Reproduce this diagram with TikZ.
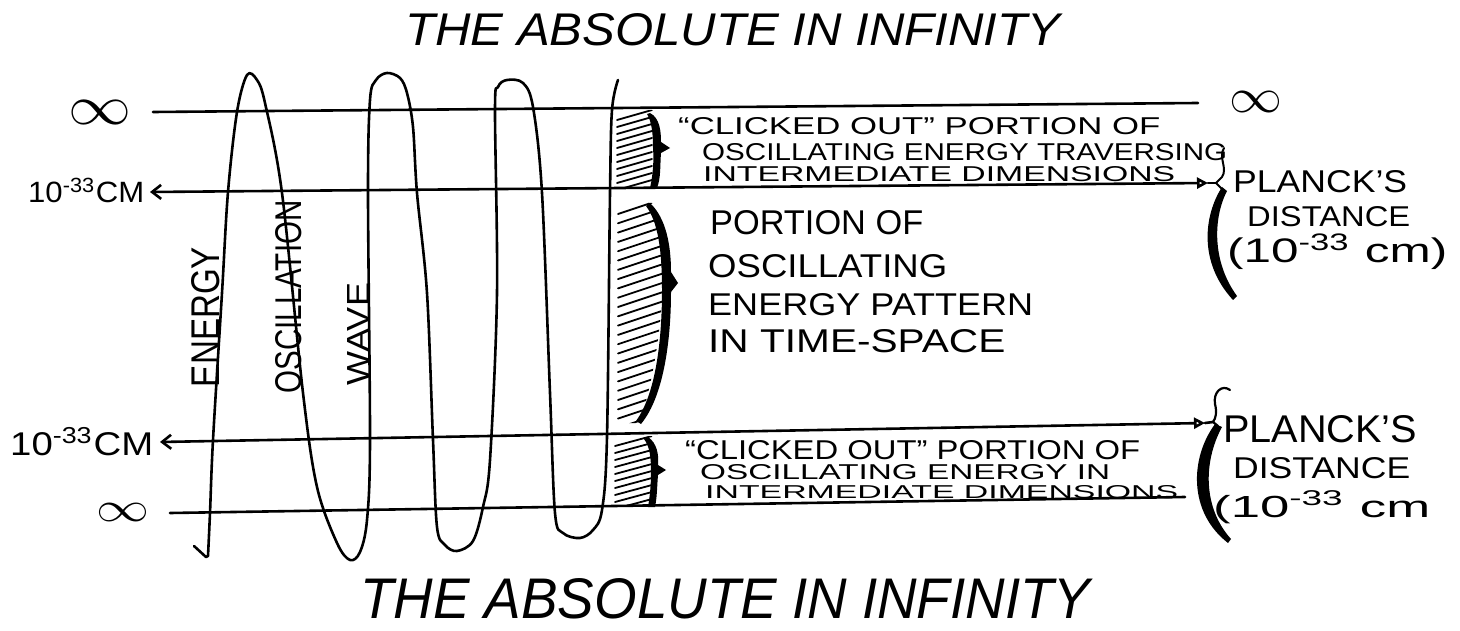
\documentclass[tikz,border=0pt]{standalone}
\usepackage{fontspec}
\setmainfont{Liberation Sans}
\usepackage{graphicx}
\usetikzlibrary{arrows.meta}
\newcommand{\hw}[3]{\resizebox{#1pt}{#2pt}{#3}}
\begin{document}
\begin{tikzpicture}[x=1pt,y=-1pt,
  ink/.style={line width=2.6pt, line cap=round, line join=round},
  lbl/.style={inner sep=0pt, anchor=base west},
  rot/.style={inner sep=0pt, anchor=center},
  hatch/.style={line width=1.8pt, line cap=round},
  larrow/.style={{Straight Barb[length=9pt,width=14pt]}-{Triangle[open,length=11pt,width=11pt]}},
]
\useasboundingbox (0,0) rectangle (1460,631);
\fill[white] (0,0) rectangle (1460,631);

% titles
\node[lbl] (ttop) at (405,46) {\hw{655}{32}{\itshape THE ABSOLUTE IN INFINITY}};
\node[lbl] (tbot) at (360,618) {\hw{730}{40}{\itshape THE ABSOLUTE IN INFINITY}};

% left labels
\node[rot] (inf1) at (100,112) {\hw{63}{24}{$\infty$}};
\node[lbl] (cm1) at (28,203) {\hw{116}{25}{10\textsuperscript{-33}CM}};
\node[lbl] (cm2) at (10,455) {\hw{143}{28}{10\textsuperscript{-33}CM}};
\node[rot] (inf2) at (123,512) {\hw{53}{18}{$\infty$}};

% rotated wave labels
\node[rot, rotate=90] (energy) at (206,317) {\hw{140}{28}{ENERGY}};
\node[rot, rotate=90] (oscil) at (289,297) {\hw{193}{26}{OSCILLATION}};
\node[rot, rotate=90] (wave) at (358,334) {\hw{102}{22}{WAVE}};

% horizontal lines
\coordinate (l1a) at (153,112); \coordinate (l1b) at (1198,103);
\coordinate (l2a) at (150,192); \coordinate (l2b) at (1208,183); \coordinate (p2) at (1216,183);
\coordinate (l3a) at (160,442); \coordinate (l3b) at (1205,423); \coordinate (p3) at (1213,422);
\coordinate (l4a) at (170,513); \coordinate (l4b) at (1185,497);
\draw[ink] (l1a) -- (l1b);
\draw[ink, larrow] (l2a) -- (l2b);
\draw[ink] (l2b) -- (p2);
\draw[ink, larrow] (l3a) -- (l3b);
\draw[ink] (l3b) -- (p3);
\draw[ink] (l4a) -- (l4b);

% wave and barrier
\draw[ink] (194,546) -- (206,557) -- plot[smooth,tension=0.55] coordinates {
 (208,556) (210,513) (213,440) (222,293) (228,192) (237,112) (247,75) (257,80) (265,103)
 (282,193) (303,393) (317,487) (337,543) (350,560) (360,552) (367,520) (370,440) (368,193)
 (370,100) (376,80) (387,73) (400,78) (407,93) (413,127) (417,193) (427,293) (433,440)
 (437,527) (445,545) (457,551) (473,541) (483,507) (490,460) (497,293) (495,110) (498,87)
 (507,80) (523,83) (533,107) (542,193) (550,393) (555,513) (563,533) (580,538) (593,530)
 (602,510) (607,437) (610,193) (612,110) (618,80)};

% hatching
\begin{scope}
\clip (613,111) rectangle (656,188);
\foreach \i in {0,...,10} \draw[hatch] (617,{120+\i*7}) -- (652,{110+\i*7});
\end{scope}
\begin{scope}
\clip (613,200) -- (652,203) .. controls (668,230) and (668,330) .. (640,423) -- (613,423) -- cycle;
\foreach \i in {0,...,23} \draw[hatch] (618,{214+\i*9.3}) -- (666,{198+\i*9.3});
\end{scope}
\begin{scope}
\clip (612,436) rectangle (652,506);
\foreach \i in {0,...,10} \draw[hatch] (615,{446+\i*7}) -- (652,{436+\i*7});
\end{scope}

% braces at the barrier
\fill (650,113) .. controls (660,118) and (661,132) .. (661,142) -- (670,148) -- (661,153)
  .. controls (660,165) and (661,178) .. (657,188) -- (650,188)
  .. controls (653,175) and (654,160) .. (653,148) .. controls (653,135) and (652,122) .. (647,114) -- cycle;
\fill (650,203) .. controls (666,218) and (671,245) .. (671,272) -- (678,283) -- (671,292)
  .. controls (671,335) and (665,395) .. (641,424) -- (636,421)
  .. controls (657,392) and (662,335) .. (662,290) .. controls (662,250) and (658,222) .. (646,206) -- cycle;
\fill (648,437) .. controls (657,443) and (659,455) .. (658,465) -- (666,470) -- (658,475)
  .. controls (657,487) and (657,498) .. (655,507) -- (648,507)
  .. controls (650,495) and (651,485) .. (651,472) .. controls (651,458) and (650,447) .. (644,439) -- cycle;

% middle texts
\node[lbl] (c1a) at (678,135) {\hw{482}{17}{“CLICKED OUT” PORTION OF}};
\node[lbl] (c1b) at (702,161) {\hw{525}{17}{OSCILLATING ENERGY TRAVERSING}};
\node[lbl] (c1c) at (703,182) {\hw{472}{15}{INTERMEDIATE DIMENSIONS}};
\node[lbl] (m1) at (710,235) {\hw{213}{24}{PORTION OF}};
\node[lbl] (m2) at (708,277) {\hw{239}{23}{OSCILLATING}};
\node[lbl] (m3) at (708,315) {\hw{325}{22}{ENERGY PATTERN}};
\node[lbl] (m4) at (708,352) {\hw{297}{23}{IN TIME-SPACE}};
\node[lbl] (c2a) at (685,459) {\hw{455}{19}{“CLICKED OUT” PORTION OF}};
\node[lbl] (c2b) at (700,479) {\hw{410}{15}{OSCILLATING ENERGY IN}};
\node[lbl] (c2c) at (705,498) {\hw{473}{13}{INTERMEDIATE DIMENSIONS}};

% right braces
\draw[ink, line width=2pt] (1224,148) .. controls (1218,158) and (1228,168) .. (1222,177) -- (p2) -- (1222,189);
\fill (1222,187) .. controls (1204,215) and (1198,262) .. (1233,300) -- (1237,296)
  .. controls (1212,262) and (1213,218) .. (1227,191) -- cycle;
\draw[ink, line width=2.2pt] (1230,390) .. controls (1222,384) and (1213,392) .. (1215,404)
  .. controls (1217,412) and (1216,418) .. (p3) -- (1218,426);
\fill (1215,424) .. controls (1190,458) and (1188,512) .. (1228,543) -- (1231,539)
  .. controls (1203,508) and (1203,462) .. (1222,427) -- cycle;

% right labels
\node[rot] (inf3) at (1256,102) {\hw{53}{21}{$\infty$}};
\node[lbl] (pl1) at (1233,193) {\hw{174}{22}{PLANCK’S}};
\node[lbl] (di1) at (1247,227) {\hw{163}{20}{DISTANCE}};
\node[lbl] (cm3) at (1227,263) {\hw{220}{29}{(10\textsuperscript{-33} cm)}};
\node[lbl] (pl2) at (1223,442) {\hw{194}{27}{PLANCK’S}};
\node[lbl] (di2) at (1233,478) {\hw{177}{21}{DISTANCE}};
\node[lbl] (cm4) at (1213,517) {\hw{217}{26}{(10\textsuperscript{-33} cm}};
\end{tikzpicture}
\end{document}
